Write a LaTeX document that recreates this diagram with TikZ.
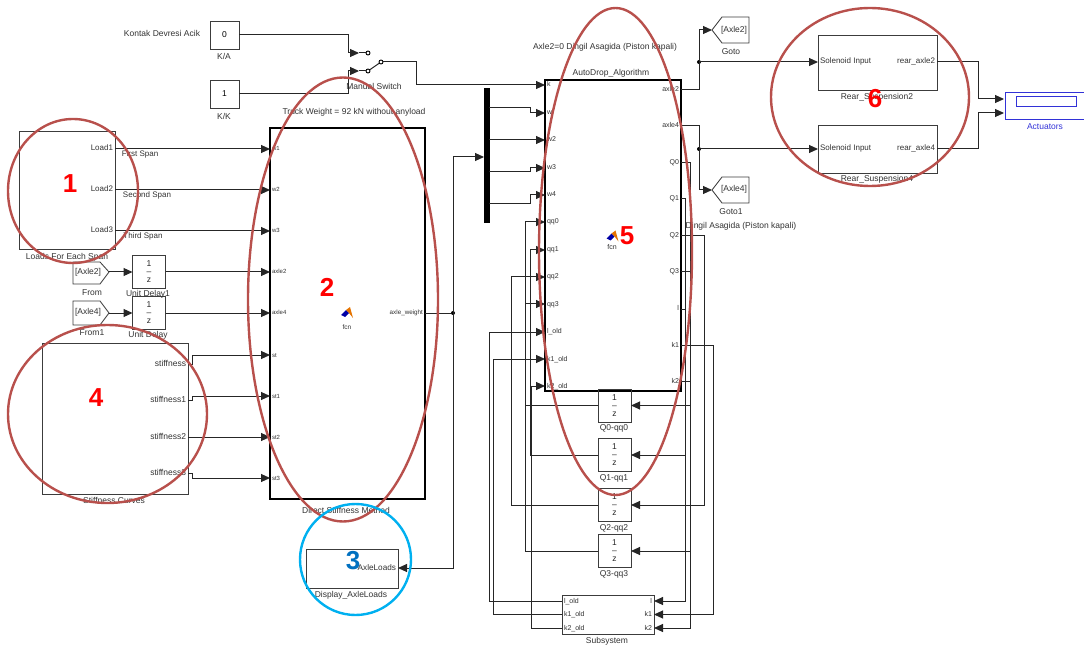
\documentclass[tikz,border=0pt]{standalone}
\usepackage{fontspec}
\usepackage{xcolor}
\usepackage{tikz}
\usetikzlibrary{calc,arrows.meta}
\setmainfont{Liberation Sans}
\definecolor{halkakizil}{RGB}{184,80,76}
\definecolor{halkacyan}{RGB}{0,176,240}
\definecolor{rakammavi}{RGB}{0,112,192}
\definecolor{bloktel}{RGB}{60,60,60}
\definecolor{yazigri}{RGB}{50,50,50}
\definecolor{eyleyici}{RGB}{50,50,215}
\newcommand{\yazi}[1]{\fontsize{#1}{#1}\selectfont}

\begin{document}
\begin{tikzpicture}[x=1pt, y=-1pt, >={Stealth[length=9pt,width=8pt,inset=0pt]}, line width=1pt, draw=black!85,
    blok/.style={draw=bloktel, line width=0.85pt, inner sep=0pt, outer sep=0pt},
    kalin/.style={draw=black, line width=1.7pt, inner sep=0pt, outer sep=0pt},
    gecikme/.style={blok, minimum width=33pt, minimum height=33pt, align=center, text=black!85, font=\yazi{8.5}},
    etiket/.style={text=yazigri, font=\yazi{8.5}, inner sep=0pt},
    portsol/.style={anchor=west, text=yazigri, inner ysep=0pt, inner xsep=2pt, outer sep=0pt, text height=5pt, text depth=1pt},
    portsag/.style={anchor=east, text=yazigri, inner ysep=0pt, inner xsep=2pt, outer sep=0pt, text height=5pt, text depth=1pt},
    nokta/.style={circle, fill=black, inner sep=0pt, minimum size=4pt},
    ucnokta/.style={circle, draw=black, fill=white, line width=0.9pt, inner sep=0pt, minimum size=4pt},
    halka/.style={draw=halkakizil, line width=2.4pt},
    rakam/.style={text=red, font=\yazi{26}\bfseries, inner sep=0pt},
    fcnikon/.pic={
        \fill[blue!65!black] (-6,3)--(-1,-2)--(2,1)--(-2,5)--cycle;
        \fill[orange!90!black] (-1,-2)--(3,-5)--(6,6)--(2,1)--cycle;
    }]
    \useasboundingbox (0,0) rectangle (1084,652);

    \node[etiket] (kontak) at (162,33){Kontak Devresi Acik};
    \node[blok, minimum width=29pt, minimum height=28pt, font=\yazi{8.5}] (ka) at (224.5,35){0};
    \node[etiket] (kalbl) at (224,56){K/A};
    \node[blok, minimum width=29pt, minimum height=28pt, font=\yazi{8.5}] (kk) at (224.5,94){1};
    \node[etiket] (kklbl) at (224,116){K/K};

    \coordinate (swa) at (359,53);
    \coordinate (swb) at (359,71);
    \node[ucnokta] (swc) at (368,53){};
    \node[ucnokta] (swd) at (368,71){};
    \node[ucnokta] (swe) at (381,62){};
    \node[etiket] (swlbl) at (374,86){Manual Switch};
    \draw[->] (ka.east) -- ++(109,0) |- (swa);
    \draw[->] (kk.east) -- ++(109,0) |- (swb);
    \draw (swa) -- (swc);
    \draw (swb) -- (swd);
    \draw (swd) -- (swe);

    \node[blok, minimum width=96pt, minimum height=118pt] (loads) at (67,190){};
    \node[etiket] (loadslbl) at (67,257){Loads For Each Span};
    \node[portsag, font=\yazi{8}] (lo1) at (loads.east |- 0,149){Load1};
    \node[portsag, font=\yazi{8}] (lo2) at (loads.east |- 0,190){Load2};
    \node[portsag, font=\yazi{8}] (lo3) at (loads.east |- 0,231){Load3};
    \node[etiket, font=\yazi{8}] (sp1) at (140,154){First Span};
    \node[etiket, font=\yazi{8}] (sp2) at (147,195){Second Span};
    \node[etiket, font=\yazi{8}] (sp3) at (143,236){Third Span};

    \node[kalin, minimum width=155pt, minimum height=371pt] (dsm) at (347.5,313.5){};
    \node[etiket] (dsmtop) at (354,112){Truck Weight = 92 kN without anyload};
    \node[etiket] (dsmlbl) at (346,510){Direct Stiffness Method};
    \pic at (347,312) {fcnikon};
    \node[etiket, font=\yazi{6.5}] (dsmfcn) at (347,327){fcn};
    \node[portsol, font=\yazi{6}] (dw1) at (270,149){w1};
    \node[portsol, font=\yazi{6}] (dw2) at (270,190){w2};
    \node[portsol, font=\yazi{6}] (dw3) at (270,231){w3};
    \node[portsol, font=\yazi{6}] (da2) at (270,272){axle2};
    \node[portsol, font=\yazi{6}] (da4) at (270,313){axle4};
    \node[portsol, font=\yazi{6}] (ds0) at (270,355){st};
    \node[portsol, font=\yazi{6}] (ds1) at (270,396){st1};
    \node[portsol, font=\yazi{6}] (ds2) at (270,437){st2};
    \node[portsol, font=\yazi{6}] (ds3) at (270,478){st3};
    \node[portsag, font=\yazi{6.3}] (dwt) at (425,313){axle\_weight};
    \draw[->] (lo1.east) -- (dw1.west);
    \draw[->] (lo2.east) -- (dw2.west);
    \draw[->] (lo3.east) -- (dw3.west);

    \draw[blok] (73,262)--(100,262)--(109,272)--(100,284)--(73,284)--cycle;
    \draw[blok] (73,301)--(100,301)--(109,313)--(100,325)--(73,325)--cycle;
    \node[etiket] (fr2) at (88,272){[Axle2]};
    \node[etiket] (fr4) at (88,312){[Axle4]};
    \coordinate (fr2uc) at (109,272);
    \coordinate (fr4uc) at (109,313);
    \node[etiket] (fr2lbl) at (92,293){From};
    \node[etiket] (fr4lbl) at (92,333){From1};
    \node[gecikme] (ud1) at (149,272){1\\[-0.5pt]--\\[-0.5pt]z};
    \node[gecikme] (ud0) at (149,313){1\\[-0.5pt]--\\[-0.5pt]z};
    \node[etiket] (ud1lbl) at (148,294){Unit Delay1};
    \node[etiket] (ud0lbl) at (148,335){Unit Delay};
    \draw[->] (fr2uc) -- (ud1.west);
    \draw[->] (fr4uc) -- (ud0.west);
    \draw[->] (ud1.east) -- (da2.west);
    \draw[->] (ud0.east) -- (da4.west);

    \node[blok, minimum width=146pt, minimum height=151pt] (stif) at (115,418.5){};
    \node[etiket] (stiflbl) at (114,500){Stiffness Curves};
    \node[portsag, font=\yazi{8.5}] (sf0) at (188,364){stiffness};
    \node[portsag, font=\yazi{8.5}] (sf1) at (188,400){stiffness1};
    \node[portsag, font=\yazi{8.5}] (sf2) at (188,437){stiffness2};
    \node[portsag, font=\yazi{8.5}] (sf3) at (188,473){stiffness3};
    \draw[->] (sf0.east) -- ++(4,0) |- (ds0.west);
    \draw[->] (sf1.east) -- ++(4,0) |- (ds1.west);
    \draw[->] (sf2.east) -- (ds2.west);
    \draw[->] (sf3.east) -- ++(4,0) |- (ds3.west);

    \node[blok, minimum width=92pt, minimum height=39pt] (disp) at (352,568.5){};
    \node[portsag, font=\yazi{8.2}] (dax) at (398,568){AxleLoads};
    \node[etiket] (displbl) at (351,595){Display\_AxleLoads};

    \node[nokta] (jw) at (453,313){};
    \node[fill=black, inner sep=0pt, minimum width=6pt, minimum height=135pt] (mux) at (487,155.5){};
    \coordinate (muxin) at (484,157);
    \coordinate (mu1) at (489,108);
    \coordinate (mu2) at (489,140);
    \coordinate (mu3) at (489,172);
    \coordinate (mu4) at (489,204);
    \draw (dwt.east) -- (jw);
    \draw[->] (jw.center) |- (muxin);
    \draw[->] (jw.center) |- (dax.east);

    \node[kalin, minimum width=136pt, minimum height=311pt] (algo) at (613,235.5){};
    \node[etiket] (algotop) at (605,47){Axle2=0 Dingil Asagida (Piston kapali)};
    \node[etiket] (algolbl) at (611,73){AutoDrop\_Algorithm};
    \pic at (612.5,235.5) {fcnikon};
    \node[etiket, font=\yazi{7}] (algofcn) at (612,247){fcn};
    \node[portsol, font=\yazi{7}] (ak) at (545,85){k};
    \node[portsol, font=\yazi{7}] (aw0) at (545,113){w};
    \node[portsol, font=\yazi{7}] (aw2) at (545,140){w2};
    \node[portsol, font=\yazi{7}] (aw3) at (545,168){w3};
    \node[portsol, font=\yazi{7}] (aw4) at (545,195){w4};
    \node[portsol, font=\yazi{7}] (aq0) at (545,222){qq0};
    \node[portsol, font=\yazi{7}] (aq1) at (545,250){qq1};
    \node[portsol, font=\yazi{7}] (aq2) at (545,277){qq2};
    \node[portsol, font=\yazi{7}] (aq3) at (545,304){qq3};
    \node[portsol, font=\yazi{7}] (alo) at (545,332){l\_old};
    \node[portsol, font=\yazi{7}] (ak1) at (545,359){k1\_old};
    \node[portsol, font=\yazi{7}] (ak2) at (545,386){k2\_old};
    \node[portsag, font=\yazi{7}] (oa2) at (681,90){axle2};
    \node[portsag, font=\yazi{7}] (oa4) at (681,126){axle4};
    \node[portsag, font=\yazi{7}] (oq0) at (681,163){Q0};
    \node[portsag, font=\yazi{7}] (oq1) at (681,199){Q1};
    \node[portsag, font=\yazi{7}] (oq2) at (681,236){Q2};
    \node[portsag, font=\yazi{7}] (oq3) at (681,272){Q3};
    \node[portsag, font=\yazi{7}] (ol) at (681,309){l};
    \node[portsag, font=\yazi{7}] (ok1) at (681,345){k1};
    \node[portsag, font=\yazi{7}] (ok2) at (681,381){k2};
    \node[etiket] (dingil) at (741,226){Dingil Asagida (Piston kapali)};
    \draw[->] (swe) -- ++(35,0) |- (ak.west);
    \draw[->] (mu1) -- ++(41,0) |- (aw0.west);
    \draw[->] (mu2) -- (aw2.west);
    \draw[->] (mu3) -- ++(41,0) |- (aw3.west);
    \draw[->] (mu4) -- ++(41,0) |- (aw4.west);

    \node[gecikme] (q0d) at (614.5,405.5){1\\[-0.5pt]--\\[-0.5pt]z};
    \node[gecikme] (q1d) at (614.5,455){1\\[-0.5pt]--\\[-0.5pt]z};
    \node[gecikme] (q2d) at (614.5,505){1\\[-0.5pt]--\\[-0.5pt]z};
    \node[gecikme] (q3d) at (614.5,551){1\\[-0.5pt]--\\[-0.5pt]z};
    \node[etiket] (q0lbl) at (614,428){Q0-qq0};
    \node[etiket] (q1lbl) at (614,478){Q1-qq1};
    \node[etiket] (q2lbl) at (614,528){Q2-qq2};
    \node[etiket] (q3lbl) at (614,574){Q3-qq3};
    \draw[->] (oq0.east) -- ++(9,0) |- (q0d.east);
    \draw[->] (oq1.east) -- ++(4,0) |- (q1d.east);
    \draw[->] (oq2.east) -- ++(23,0) |- (q2d.east);
    \draw[->] (oq3.east) -- ++(9,0) |- (q3d.east);
    \draw[->] (q0d.west) -- ++(-72.5,0) |- (aq0.west);
    \draw[->] (q1d.west) -- ++(-67.5,0) |- (aq1.west);
    \draw[->] (q2d.west) -- ++(-86.5,0) |- (aq2.west);
    \draw[->] (q3d.west) -- ++(-72.5,0) |- (aq3.west);

    \node[blok, minimum width=92pt, minimum height=39pt] (subs) at (608,614.5){};
    \node[etiket] (subslbl) at (607,641){Subsystem};
    \node[portsol, font=\yazi{7}] (slo) at (562,601){l\_old};
    \node[portsol, font=\yazi{7}] (sk1) at (562,614.5){k1\_old};
    \node[portsol, font=\yazi{7}] (sk2) at (562,628){k2\_old};
    \node[portsag, font=\yazi{7}] (il) at (654,601){l};
    \node[portsag, font=\yazi{7}] (ik1) at (654,614.5){k1};
    \node[portsag, font=\yazi{7}] (ik2) at (654,628){k2};
    \draw[->] (ol.east) -- ++(4,0) |- (il.east);
    \draw[->] (ok1.east) -- ++(32,0) |- (ik1.east);
    \draw[->] (ok2.east) -- ++(9,0) |- (ik2.east);
    \draw[->] (slo.west) -- ++(-73,0) |- (alo.west);
    \draw[->] (sk1.west) -- ++(-69,0) |- (ak1.west);
    \draw[->] (sk2.west) -- ++(-31,0) |- (ak2.west);

    \draw[blok] (712,30)--(722,17)--(749,17)--(749,43)--(722,43)--cycle;
    \draw[blok] (712,190)--(722,177)--(749,177)--(749,203)--(722,203)--cycle;
    \node[etiket] (go2) at (734,30){[Axle2]};
    \node[etiket] (go4) at (734,189){[Axle4]};
    \coordinate (go2uc) at (712,30);
    \coordinate (go4uc) at (712,190);
    \node[etiket] (go2lbl) at (731,52){Goto};
    \node[etiket] (go4lbl) at (731,212){Goto1};
    \node[nokta] (ja2) at (699,62){};
    \node[nokta] (ja4) at (699,149){};
    \draw[->] (oa2.east) -- ++(18,0) |- (go2uc);
    \draw[->] (oa4.east) -- ++(18,0) |- (go4uc);

    \node[blok, minimum width=119pt, minimum height=55pt] (rs2) at (877.5,62.5){};
    \node[blok, minimum width=119pt, minimum height=48pt] (rs4) at (877.5,149){};
    \node[etiket] (rs2lbl) at (877,97){Rear\_Suspension2};
    \node[etiket] (rs4lbl) at (877,179){Rear\_Suspension4};
    \node[portsol, font=\yazi{8}] (si2) at (818,62){Solenoid Input};
    \node[portsol, font=\yazi{8}] (si4) at (818,149){Solenoid Input};
    \node[portsag, font=\yazi{8}] (ra2) at (937,62){rear\_axle2};
    \node[portsag, font=\yazi{8}] (ra4) at (937,149){rear\_axle4};
    \draw[->] (ja2.center) -- (si2.west);
    \draw[->] (ja4.center) -- (si4.west);

    \node[draw=eyleyici, line width=0.85pt, inner sep=0pt, minimum width=85pt, minimum height=27pt] (act) at (1047.5,105.5){};
    \node[draw=eyleyici, line width=0.85pt, inner sep=0pt, minimum width=60pt, minimum height=10pt] (actic) at (1046,101){};
    \node[etiket, text=eyleyici] (actlbl) at (1045,127){Actuators};
    \coordinate (ac1) at (1004,99);
    \coordinate (ac2) at (1004,113);
    \draw[->] (ra2.east) -- ++(41,0) |- (ac1);
    \draw[->] (ra4.east) -- ++(41,0) |- (ac2);

    \draw[halka] (73,191) ellipse (65 and 72);
    \draw[halka] (343,299.5) ellipse (95 and 222);
    \draw[draw=halkacyan, line width=2.4pt] (355.5,559.5) ellipse (55.5 and 55.5);
    \draw[halka] (107.5,414) ellipse (99.5 and 89);
    \draw[halka] (615.5,251.5) ellipse (76.5 and 243.5);
    \draw[halka] (870,97) ellipse (99 and 89);
    \node[rakam] (r1) at (70,184){1};
    \node[rakam] (r2) at (327,287){2};
    \node[rakam, text=rakammavi] (r3) at (353,561){3};
    \node[rakam] (r4) at (96,398){4};
    \node[rakam] (r5) at (627,236){5};
    \node[rakam] (r6) at (875,99){6};
\end{tikzpicture}
\end{document}
